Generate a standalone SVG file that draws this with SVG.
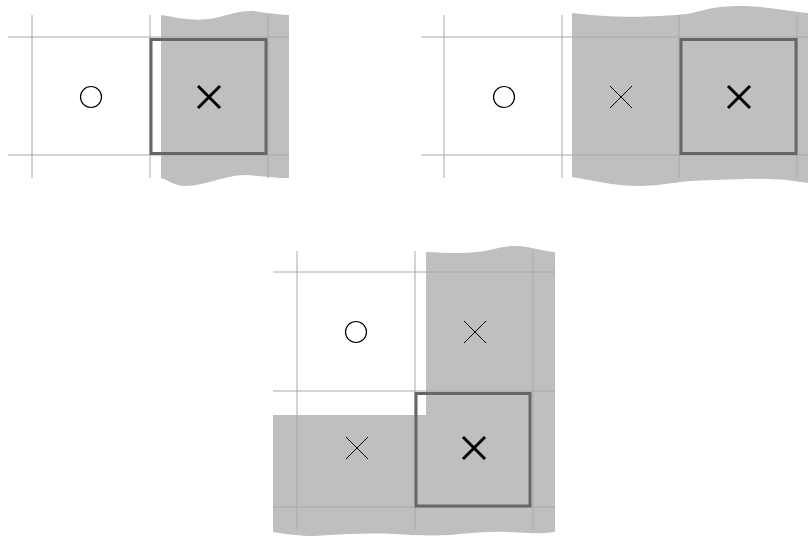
<svg xmlns="http://www.w3.org/2000/svg" width="808" height="538" viewBox="0 0 808 538">
<style>
.bg{fill:#bfbfbf;stroke:none}
.grid{stroke:#a8a8a8;stroke-width:1;fill:none}
.sel{fill:none;stroke:#666;stroke-width:3}
.o{fill:none;stroke:#000;stroke-width:1.2}
.xt{stroke:#000;stroke-width:1;fill:none}
.xb{stroke:#000;stroke-width:3;fill:none}
</style>
<rect width="808" height="538" fill="#fff"/>
<g id="panel1">
  <path class="bg" d="M161 15 C180 18 195 22 215 18 C235 13 245 9 260 12 C275 14 282 15 289 15 L289 178 C275 178 262 176 245 175 C225 175 205 186 185 186 C175 186 168 180 161 178 Z"/>
  <g class="grid">
    <line x1="8" y1="37" x2="289" y2="37"/>
    <line x1="8" y1="155" x2="289" y2="155"/>
    <line x1="32" y1="15" x2="32" y2="178"/>
    <line x1="150" y1="15" x2="150" y2="178"/>
    <line x1="268" y1="15" x2="268" y2="178"/>
  </g>
  <rect class="sel" x="151" y="39.5" width="115" height="114"/>
  <circle class="o" cx="91" cy="97" r="10.5"/>
  <path class="xb" d="M198 86 L220 108 M220 86 L198 108"/>
</g>
<g id="panel2">
  <path class="bg" d="M572 13 C600 16 625 18 660 16 C680 15 690 14 700 11 C715 7 725 6 745 6 C770 7 790 11 808 13 L808 183 C790 180 770 178 745 179 C720 180 705 180 690 181 C670 183 655 186 640 186 C615 186 595 181 572 177 Z"/>
  <g class="grid">
    <line x1="421" y1="37" x2="808" y2="37"/>
    <line x1="421" y1="155" x2="808" y2="155"/>
    <line x1="444" y1="15" x2="444" y2="178"/>
    <line x1="562" y1="15" x2="562" y2="178"/>
    <line x1="679" y1="15" x2="679" y2="178"/>
    <line x1="797" y1="15" x2="797" y2="178"/>
  </g>
  <rect class="sel" x="681" y="39.5" width="115" height="114"/>
  <circle class="o" cx="504" cy="97" r="10.5"/>
  <path class="xt" d="M610 86 L632 108 M632 86 L610 108"/>
  <path class="xb" d="M728 86 L750 108 M750 86 L728 108"/>
</g>
<g id="panel3">
  <path class="bg" d="M426 252 C445 253 465 254 485 251 C495 249 503 246 515 246 C530 246 542 251 555 252 L555 532 C540 534 525 533 510 532 C490 531 470 533 450 535 C430 536 410 535 395 534 C370 533 340 534 315 536 C300 536 285 534 273 532 L273 415 L426 415 Z"/>
  <g class="grid">
    <line x1="273" y1="272" x2="555" y2="272"/>
    <line x1="273" y1="391" x2="555" y2="391"/>
    <line x1="273" y1="507" x2="555" y2="507"/>
    <line x1="297" y1="251" x2="297" y2="530"/>
    <line x1="415" y1="251" x2="415" y2="530"/>
    <line x1="533" y1="251" x2="533" y2="530"/>
  </g>
  <rect class="sel" x="416" y="393.5" width="114" height="112.5"/>
  <circle class="o" cx="356" cy="332" r="10.5"/>
  <path class="xt" d="M464 321 L486 343 M486 321 L464 343"/>
  <path class="xt" d="M346 437 L368 459 M368 437 L346 459"/>
  <path class="xb" d="M463 437 L485 459 M485 437 L463 459"/>
</g>
</svg>
